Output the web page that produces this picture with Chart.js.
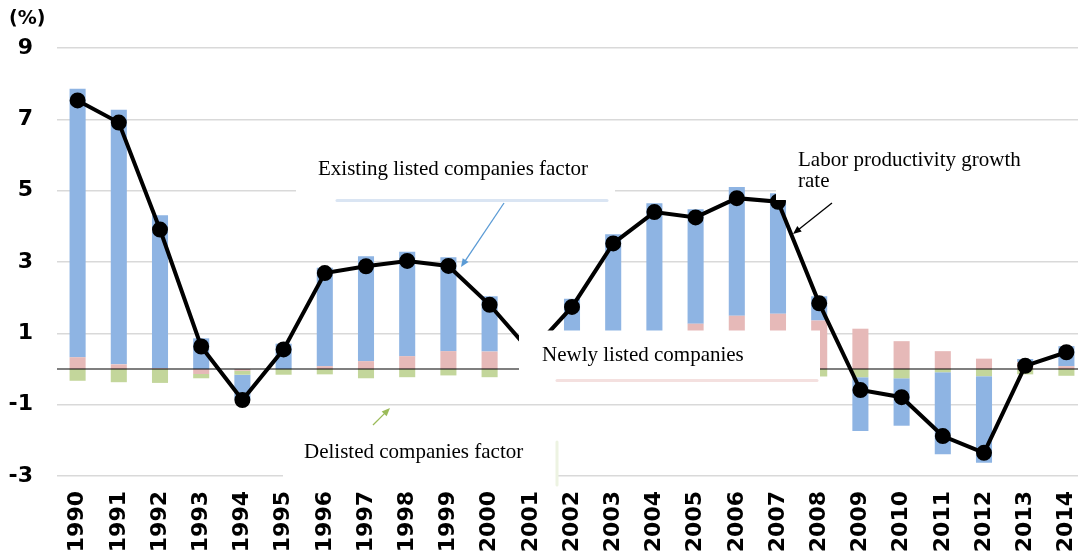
<!DOCTYPE html>
<html lang="en">
<head>
  <meta charset="UTF-8" />
  <title>Labor productivity growth rate</title>
  <script src="https://cdn.jsdelivr.net/npm/chart.js"></script>
  <style>
    body {
      margin: 0;
      background: #fff;
      overflow: hidden;
    }
    canvas {
      display: block;
    }
  </style>
</head>
<body>
<canvas id="prodChart" width="1097" height="556"></canvas>

<script>
  // values (%)
  const years = ["1990", "1991", "1992", "1993", "1994", "1995", "1996", "1997", "1998", "1999", "2000", "2001",
                 "2002", "2003", "2004", "2005", "2006", "2007", "2008", "2009", "2010", "2011", "2012", "2013", "2014"];

  const newlyListed = [0.33, 0.13, 0.02, -0.14, -0.05, 0.0, 0.08, 0.22, 0.36, 0.5, 0.49, 0.25,
                       0.45, 0.7, 0.95, 1.27, 1.49, 1.55, 1.36, 1.13, 0.78, 0.5, 0.29, 0.19, 0.08];

  const delisted = [-0.33, -0.37, -0.39, -0.12, -0.11, -0.16, -0.15, -0.26, -0.23, -0.18, -0.23, -0.27,
                    -0.23, -0.26, -0.27, -0.23, -0.31, -0.24, -0.21, -0.23, -0.26, -0.09, -0.2, -0.15, -0.19];

  const existing = [7.53, 7.14, 4.29, 0.86, -0.7, 0.71, 2.76, 2.94, 2.93, 2.63, 1.55, 0.5,
                    1.52, 3.08, 3.7, 3.21, 3.61, 3.38, 0.68, -1.51, -1.33, -2.3, -2.43, 0.09, 0.56];

  const productivity = [7.53, 6.91, 3.91, 0.63, -0.87, 0.55, 2.69, 2.88, 3.03, 2.89, 1.8, 0.48,
                        1.74, 3.52, 4.4, 4.25, 4.79, 4.69, 1.84, -0.59, -0.79, -1.88, -2.35, 0.09, 0.47];

  const yTicks = { min: -3, max: 9, step: 2 };

  const tickFont = { family: "'DejaVu Sans', Verdana, sans-serif", size: 22, weight: "bold" };
  const noteFont = "21px 'Liberation Serif', 'Times New Roman', serif";

  function arrow(ctx, x1, y1, x2, y2, color) {
    const a = Math.atan2(y2 - y1, x2 - x1);
    const h = 9;
    ctx.strokeStyle = color;
    ctx.fillStyle = color;
    ctx.lineWidth = 1.3;
    ctx.beginPath();
    ctx.moveTo(x1, y1);
    ctx.lineTo(x2 - Math.cos(a) * h * 0.8, y2 - Math.sin(a) * h * 0.8);
    ctx.stroke();
    ctx.beginPath();
    ctx.moveTo(x2, y2);
    ctx.lineTo(x2 - h * Math.cos(a - 0.4), y2 - h * Math.sin(a - 0.4));
    ctx.lineTo(x2 - h * Math.cos(a + 0.4), y2 - h * Math.sin(a + 0.4));
    ctx.closePath();
    ctx.fill();
  }

  function softLine(ctx, x1, y1, x2, y2, color) {
    ctx.strokeStyle = color;
    ctx.lineWidth = 3;
    ctx.lineCap = "round";
    ctx.beginPath();
    ctx.moveTo(x1, y1);
    ctx.lineTo(x2, y2);
    ctx.stroke();
    ctx.lineCap = "butt";
  }

  // zero line, "(%)" unit and the text boxes with their arrows
  const notesPlugin = {
    id: "notes",
    afterDatasetsDraw(chart) {
      const ctx = chart.ctx;
      const area = chart.chartArea;
      const y0 = chart.scales.y.getPixelForValue(0);
      ctx.save();

      ctx.strokeStyle = "#000";
      ctx.lineWidth = 1.2;
      ctx.beginPath();
      ctx.moveTo(area.left, y0);
      ctx.lineTo(area.right, y0);
      ctx.stroke();

      ctx.fillStyle = "#fff";
      ctx.fillRect(296, 135, 319, 64);
      ctx.fillRect(776, 135, 330, 65);
      ctx.fillRect(519, 330.5, 301, 49.5);
      ctx.fillRect(283, 428, 274, 59);

      softLine(ctx, 337, 200.5, 607, 200.5, "#dae5f3");
      softLine(ctx, 557, 380.5, 817, 380.5, "#f4e0df");
      softLine(ctx, 557, 442, 557, 485, "#edf3e2");

      ctx.fillStyle = "#000";
      ctx.font = noteFont;
      ctx.textBaseline = "alphabetic";
      ctx.textAlign = "left";
      ctx.fillText("Existing listed companies factor", 318, 175);
      ctx.fillText("Labor productivity growth", 798, 166);
      ctx.fillText("rate", 798, 186.5);
      ctx.fillText("Newly listed companies", 542, 361);
      ctx.fillText("Delisted companies factor", 304, 457.5);

      arrow(ctx, 504, 203, 461, 267, "#5b9bd5");
      arrow(ctx, 832, 203, 793, 234, "#000");
      arrow(ctx, 373, 425, 390, 408, "#9bbb59");

      ctx.fillStyle = "#000";
      ctx.font = "bold 19px 'DejaVu Sans', Verdana, sans-serif";
      ctx.textBaseline = "middle";
      ctx.fillText("(%)", 9, 19);
      ctx.restore();
    }
  };

  const ctxProd = document.getElementById("prodChart").getContext("2d");

  const prodChart = new Chart(ctxProd, {
    type: "bar",
    data: {
      labels: years,
      datasets: [
        {
          type: "line",
          label: "Labor productivity growth rate",
          data: productivity,
          stack: "lp",
          order: 0,
          borderColor: "#000",
          backgroundColor: "#000",
          borderWidth: 4,
          pointRadius: 6,
          pointBackgroundColor: "#000",
          pointBorderColor: "#000",
          tension: 0
        },
        {
          label: "Newly listed companies factor",
          data: newlyListed,
          stack: "f",
          order: 1,
          backgroundColor: "#e6b9b8"
        },
        {
          label: "Delisted companies factor",
          data: delisted,
          stack: "f",
          order: 1,
          backgroundColor: "#c3d69b"
        },
        {
          label: "Existing listed companies factor",
          data: existing,
          stack: "f",
          order: 1,
          backgroundColor: "#8eb4e3"
        }
      ]
    },
    options: {
      responsive: false,
      animation: false,
      devicePixelRatio: 1,
      barPercentage: 0.39,
      categoryPercentage: 1,
      layout: { padding: { top: 48, right: 0, bottom: 0, left: 0 } },
      plugins: {
        legend: { display: false },
        tooltip: { enabled: false }
      },
      scales: {
        x: {
          stacked: true,
          grid: { display: false, drawTicks: false },
          border: { display: false },
          ticks: {
            color: "#000",
            font: tickFont,
            minRotation: 90,
            maxRotation: 90,
            padding: 15,
            autoSkip: false
          },
          afterFit(scale) {
            scale.height = 80;
            scale.paddingLeft = 0;
            scale.paddingRight = 0;
          }
        },
        y: {
          stacked: true,
          min: yTicks.min,
          max: yTicks.max,
          grid: { color: "#d9d9d9", lineWidth: 1.5, drawTicks: false },
          border: { display: false },
          ticks: {
            stepSize: yTicks.step,
            color: "#000",
            font: tickFont,
            padding: 24
          },
          afterFit(scale) { scale.width = 57; }
        }
      }
    },
    plugins: [notesPlugin]
  });
</script>
</body>
</html>
